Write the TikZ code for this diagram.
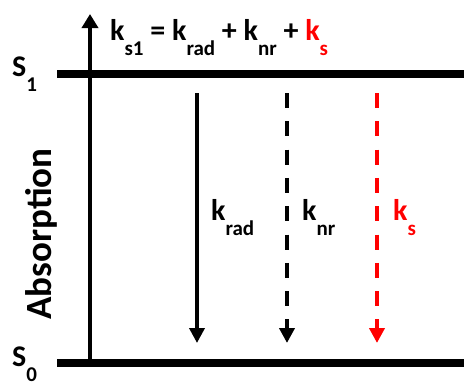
\documentclass[tikz,border=0pt]{standalone}
\usepackage{fontspec}
\setmainfont{Carlito}
\usetikzlibrary{arrows.meta}
\newcommand{\lowsub}[1]{\raisebox{-15pt}{\fontsize{21}{21}\selectfont #1}}
\begin{document}
\begin{tikzpicture}[x=1pt,y=-1pt,
  level/.style={line width=7.5pt},
  axisline/.style={line width=3.6pt,-{Triangle[width=16pt,length=14pt]}},
  decay/.style={line width=3.6pt,-{Triangle[width=15pt,length=15pt]}},
  dashdecay/.style={decay,line width=4.2pt,dash pattern=on 15pt off 13.3pt},
  lbl/.style={inner sep=0pt,anchor=base west,font=\fontsize{30}{30}\selectfont\bfseries}]
\useasboundingbox (0,0) rectangle (464,383);
% levels
\coordinate (s1a) at (57,74);
\coordinate (s1b) at (464,74);
\coordinate (s0a) at (57,363);
\coordinate (s0b) at (464,363);
\draw[level] (s1a) -- (s1b);
\draw[level] (s0a) -- (s0b);
% axis
\coordinate (axb) at (90,363);
\coordinate (axt) at (90,14);
\draw[axisline] (axb) -- (axt);
% labels
\node[lbl] (S1) at (12,76) {S\lowsub{1}};
\node[lbl] (S0) at (12,366) {S\lowsub{0}};
\node[lbl] (title) at (110,40) {k\lowsub{s1} = k\lowsub{rad} + k\lowsub{nr} + \textcolor{red}{k\lowsub{s}}};
\node[lbl,rotate=90,anchor=center,font=\fontsize{37}{37}\selectfont\bfseries] (abs) at (41,234) {Absorption};
% decay arrows
\coordinate (r1) at (197,93); \coordinate (r2) at (197,343);
\coordinate (n1) at (287,93); \coordinate (n2) at (287,343);
\coordinate (k1) at (377,93); \coordinate (k2) at (377,343);
\draw[decay] (r1) -- (r2);
\draw[dashdecay] (n1) -- (n2);
\draw[dashdecay,red] (k1) -- (k2);
\node[lbl] (lrad) at (211,220) {k\lowsub{rad}};
\node[lbl] (lnr) at (302,220) {k\lowsub{nr}};
\node[lbl,red] (ls) at (393,220) {k\lowsub{s}};
\end{tikzpicture}
\end{document}
